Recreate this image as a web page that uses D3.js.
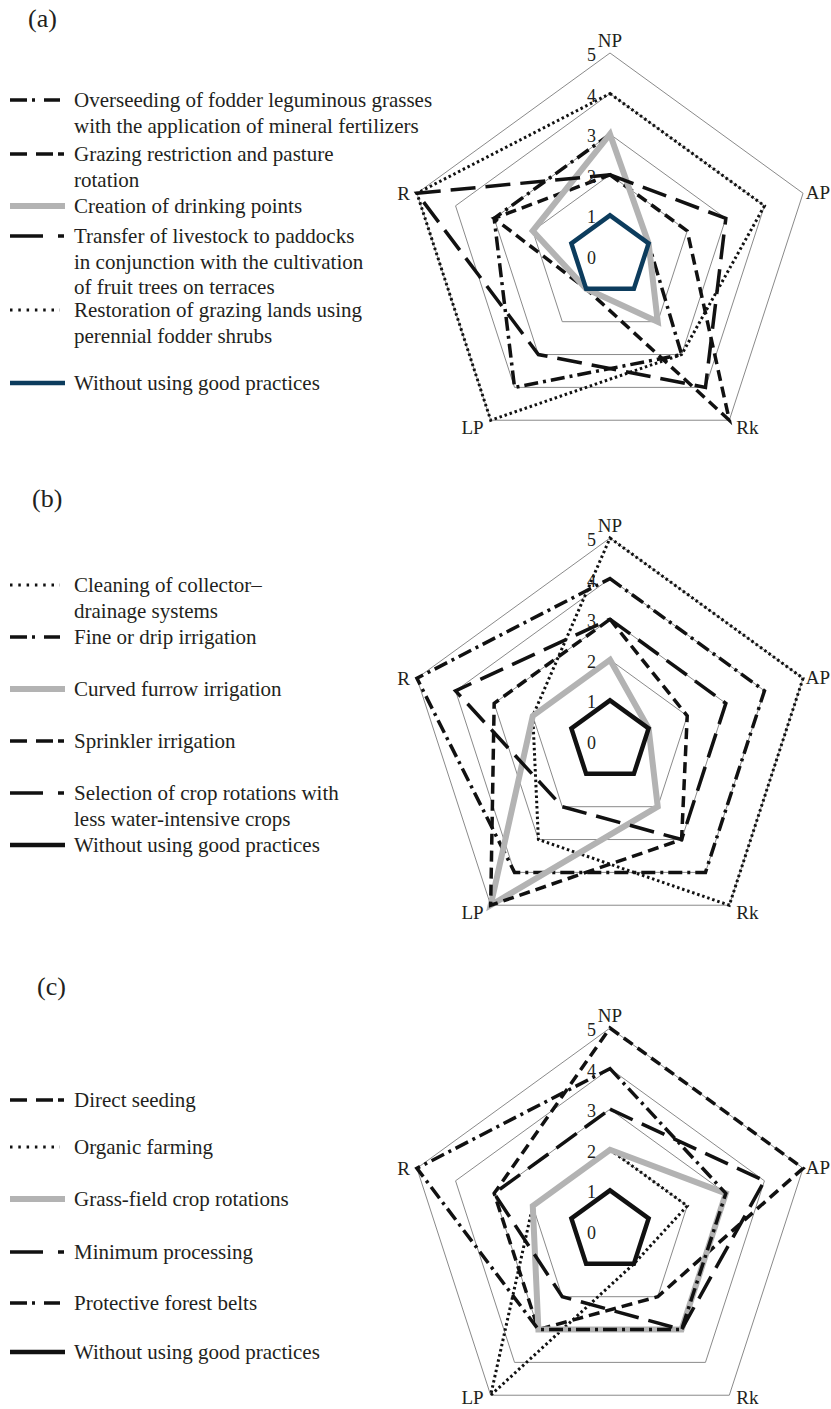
<!DOCTYPE html>
<html>
<head>
<meta charset="utf-8">
<script src="https://cdn.jsdelivr.net/npm/d3@7"></script>
<style>
  body { margin: 0; background: #fff; }
  svg { display: block; }
  text { font-family: "Liberation Serif", "Times New Roman", serif; fill: #231f20; }
</style>
</head>
<body>
<svg id="fig" width="831" height="1409"></svg>
<script>
// ---- data ----
const axes = ["NP", "AP", "Rk", "LP", "R"];
const tickValues = [0, 1, 2, 3, 4, 5];
const gridLevels = [1, 2, 3, 4, 5];
const panelTags = ["(a)", "(b)", "(c)"];

// (a) pasture practices
const namesA = [
  ["Overseeding of fodder leguminous grasses", "with the application of mineral fertilizers"],
  ["Grazing restriction and pasture", "rotation"],
  ["Creation of drinking points"],
  ["Transfer of livestock to paddocks", "in conjunction with the cultivation", "of fruit trees on terraces"],
  ["Restoration of grazing lands using", "perennial fodder shrubs"],
  ["Without using good practices"]
];
const valuesA = [
  [3, 1, 3, 4, 3],
  [2, 2, 5, 1, 3],
  [3, 1, 2, 1, 2],
  [2, 3, 4, 3, 5],
  [4, 4, 3, 5, 5],
  [1, 1, 1, 1, 1]
];

// (b) irrigation practices
const namesB = [
  ["Cleaning of collector\u2013", "drainage systems"],
  ["Fine or drip irrigation"],
  ["Curved furrow irrigation"],
  ["Sprinkler irrigation"],
  ["Selection of crop rotations with", "less water-intensive crops"],
  ["Without using good practices"]
];
const valuesB = [
  [5, 5, 5, 3, 2],
  [4, 4, 4, 4, 5],
  [2, 1, 2, 5, 2],
  [3, 2, 3, 5, 3],
  [3, 3, 3, 2, 4],
  [1, 1, 1, 1, 1]
];

// (c) arable practices
const namesC = [
  ["Direct seeding"],
  ["Organic farming"],
  ["Grass-field crop rotations"],
  ["Minimum processing"],
  ["Protective forest belts"],
  ["Without using good practices"]
];
const valuesC = [
  [5, 5, 2, 3, 3],
  [2, 2, 1, 5, 2],
  [2, 3, 3, 3, 2],
  [3, 4, 3, 2, 3],
  [4, 3, 3, 3, 5],
  [1, 1, 1, 1, 1]
];

// ---- line styles ----
const styles = {
  dashdot:  { stroke: "#111", width: 3.5, dash: "14,5,3,5",  legendDash: "17,5,3,9,16", legendLen: 50, legendWidth: 3.5 },
  dash:     { stroke: "#111", width: 3.5, dash: "11,6",      legendDash: "17,9,17,5,6", legendLen: 54, legendWidth: 3.5 },
  longdash: { stroke: "#111", width: 3.5, dash: "25,10",     legendDash: "33,15,6",     legendLen: 54, legendWidth: 3.5 },
  dot:      { stroke: "#111", width: 3,   dash: "2.5,2.8",   legendDash: "2.5,5.8",     legendLen: 50, legendWidth: 3 },
  gray:     { stroke: "#b3b3b3", width: 6, dash: null,        legendDash: null,          legendLen: 55, legendWidth: 6 },
  navy:     { stroke: "#0c3c5d", width: 4.5, dash: null,      legendDash: null,          legendLen: 55, legendWidth: 4.5 },
  solid:    { stroke: "#111", width: 4.5, dash: null,         legendDash: null,          legendLen: 55, legendWidth: 4.5 }
};

const panels = [
  { names: namesA, values: valuesA, kinds: ["dashdot", "dash", "gray", "longdash", "dot", "navy"],
    cy: 256, bottomLabelDy: 14, tag: { x: 28, y: 27 }, legendY: [100, 154, 206, 236, 310, 383] },
  { names: namesB, values: valuesB, kinds: ["dot", "dashdot", "gray", "dash", "longdash", "solid"],
    cy: 741, bottomLabelDy: 14, tag: { x: 32, y: 507 }, legendY: [585, 637, 689, 741, 793, 845] },
  { names: namesC, values: valuesC, kinds: ["dash", "dot", "gray", "longdash", "dashdot", "solid"],
    cy: 1231, bottomLabelDy: 9, tag: { x: 37, y: 995 }, legendY: [1100, 1147, 1199, 1252, 1303, 1352] }
];

// ---- drawing ----
const W = 831, H = 1409;
const svg = d3.select("#fig");
svg.append("rect").attr("width", W).attr("height", H).attr("fill", "#fff");

const cx = 610;
const radius = 203;
const r = d3.scaleLinear().domain([0, 5]).range([0, radius]);
const angle = d3.scalePoint().domain(axes).range([0, 2 * Math.PI * 4 / 5]);

const radar = d3.lineRadial()
  .angle((d, i) => angle(axes[i]))
  .radius(d => r(d))
  .curve(d3.curveLinearClosed);

function vertex(axis, v) {
  const a = angle(axis);
  return [r(v) * Math.sin(a), -r(v) * Math.cos(a)];
}

panels.forEach((p, pi) => {
  const g = svg.append("g").attr("transform", `translate(${cx},${p.cy})`);

  // grid pentagons
  g.selectAll("path.grid").data(gridLevels).join("path")
    .attr("class", "grid")
    .attr("d", lv => radar(axes.map(() => lv)))
    .attr("fill", "none")
    .attr("stroke", "#8a8a8a")
    .attr("stroke-width", 1);

  // series polygons
  p.values.forEach((vals, si) => {
    const st = styles[p.kinds[si]];
    g.append("path")
      .attr("d", radar(vals))
      .attr("fill", "none")
      .attr("stroke", st.stroke)
      .attr("stroke-width", st.width)
      .attr("stroke-linejoin", "miter")
      .attr("stroke-dasharray", st.dash);
  });

  // scale labels along the NP axis
  g.selectAll("text.tick").data(tickValues).join("text")
    .attr("class", "tick")
    .attr("x", -14)
    .attr("y", v => -r(v) + 8)
    .attr("text-anchor", "end")
    .attr("font-size", 18)
    .text(d => d);

  // axis names
  axes.forEach(ax => {
    const [vx, vy] = vertex(ax, 5);
    const t = g.append("text").attr("font-size", 19).text(ax);
    if (ax === "NP") t.attr("x", vx).attr("y", vy - 6).attr("text-anchor", "middle");
    else if (ax === "AP") t.attr("x", W - 1 - cx).attr("y", vy + 6).attr("text-anchor", "end");
    else if (ax === "R") t.attr("x", vx - 7).attr("y", vy + 7).attr("text-anchor", "end");
    else if (ax === "LP") t.attr("x", vx - 7).attr("y", vy + p.bottomLabelDy).attr("text-anchor", "end");
    else t.attr("x", vx + 7).attr("y", vy + p.bottomLabelDy).attr("text-anchor", "start");
  });

  // panel tag
  svg.append("text").attr("x", p.tag.x).attr("y", p.tag.y)
    .attr("font-size", 26).text(panelTags[pi]);

  // legend
  p.names.forEach((lines, si) => {
    const st = styles[p.kinds[si]];
    const y = p.legendY[si];
    svg.append("line")
      .attr("x1", 10).attr("x2", 10 + st.legendLen)
      .attr("y1", y).attr("y2", y)
      .attr("stroke", st.stroke)
      .attr("stroke-width", st.legendWidth)
      .attr("stroke-dasharray", st.legendDash);
    const t = svg.append("text").attr("font-size", 21);
    lines.forEach((ln, li) => {
      t.append("tspan").attr("x", 74).attr("y", y + 7 + li * 25.5).text(ln);
    });
  });
});
</script>
</body>
</html>
